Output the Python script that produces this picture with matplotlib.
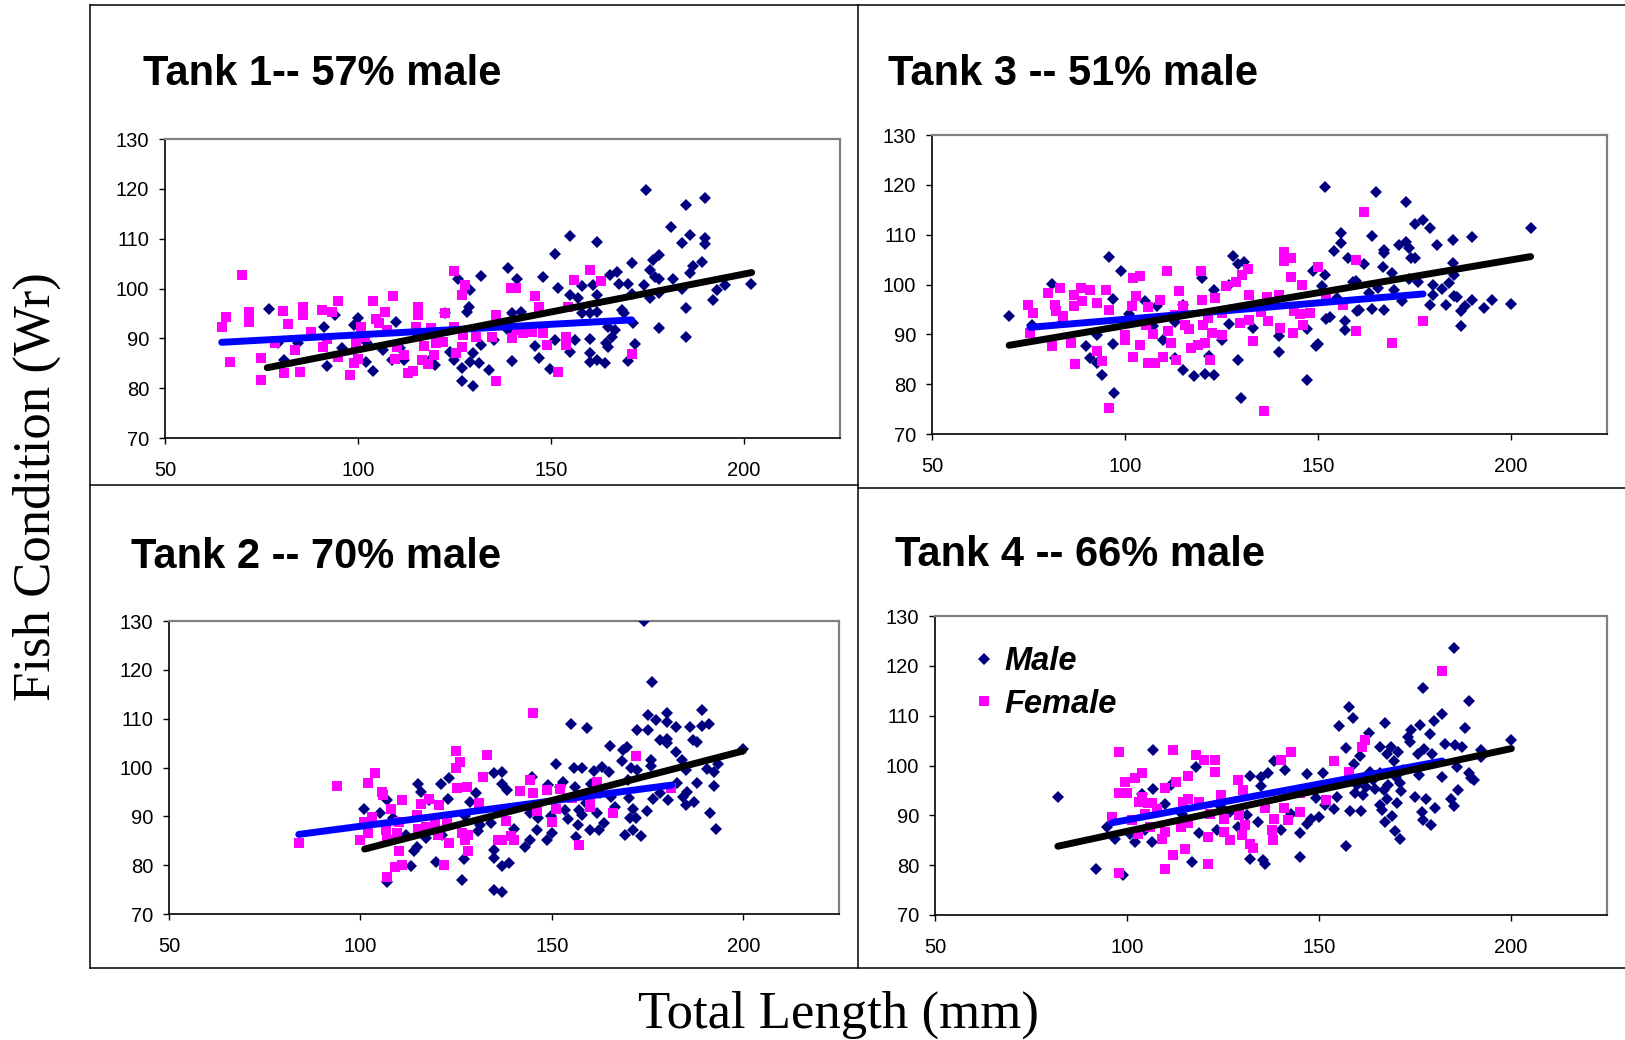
import matplotlib
matplotlib.use("Agg")
import matplotlib.pyplot as plt
from matplotlib.lines import Line2D

# ---------------- data ----------------
titles = ["Tank 1-- 57% male", "Tank 2 -- 70% male", "Tank 3 -- 51% male", "Tank 4 -- 66% male"]
x_ticks = [50, 100, 150, 200]
y_ticks = [70, 80, 90, 100, 110, 120, 130]
legend_labels = ["Male", "Female"]

# Tank 1
t1_male = [(77,95.8),(80.9,85.6),(91.1,92.2),(92,84.4),(94,94.7),(100,94.0),(100.6,92.3),(102,85.3),(103.9,83.4),
           (109.9,93.3),(106.4,87.6),(108.8,85.6),(112,85.6),(120,84.6),(122.7,95.1),(125.9,102),(129,99.7),(128.7,96.3),
           (128.2,95.3),(131.9,102.5),(127,84.1),(127,81.5),(129.8,80.4),(129,85.3),(131.3,85),(129.8,87),(131.9,88.6),
           (133.9,83.6),(135.4,89.6),(138.9,104.2),(141.2,101.9),(140,95.1),(142.2,95.3),(140,85.4),(138.9,91.6),(146,88.4),
           (147,86),(148.1,102.4),(149.8,83.9),(151,106.9),(151,89.6),(152,100.2),(155.1,110.6),(155.1,98.7),(156.3,89.6),
           (157.2,98),(155.1,87.3),(158,100.5),(158,95),(160.3,95),(160.3,89.8),(160.3,87.1),(160.3,85.3),(160.9,100.8),
           (162,109.3),(162,98.6),(162,95.3),(162,85.7),(164.1,85.1),(164.4,89.1),(164.9,88.3),(164.9,92.3),(165.3,102.7),
           (166,90.3),(166.6,91.6),(167.2,103.4),(167.8,101),(168.4,95.7),(169,95.1),(170.1,100.9),(170.1,85.5),(171,105.2),
           (171,98.9),(171.9,88.8),(171.4,93),(174.2,100.7),(174.8,119.8),(175.7,98),(175.7,103.7),(176.5,105.7),(177.1,102.4),
           (178,106.7),(178,102),(178,92),(178.2,99),(181.1,112.4),(181.7,102),(184,109.1),(184,99.8),(185,116.8),(185,96.1),
           (185,90.3),(186.2,110.7),(186.2,103.2),(187,104.5),(189.3,105.4),(190.1,118.1),(190.1,110.1),(190.1,108.9),
           (192,97.7),(193.1,99.7),(195.1,100.7),(202,100.9),(79.2,89),(84.4,89),(96,88),(98.9,92.7),(102.4,89),(111,88),
           (115.7,90.6),(118.6,85.6),(123.8,87.3),(125,85.6)]
t1_female = [(64.7,92.2),(65.9,94.2),(66.8,85.3),(69.9,102.7),(71.9,95.3),(71.9,93.3),(74.9,86),(74.9,81.6),(78.6,89),
             (80.7,95.5),(81.9,92.8),(80.9,83.1),(83.8,87.6),(84.9,83.3),(85.8,96.3),(85.8,94.7),(87.8,91.3),(90.7,95.7),
             (91,88.3),(91.9,89.8),(93.4,95.3),(94.8,97.5),(94.8,86.3),(97.9,82.6),(98.9,85.1),(99.5,89),(100,85.8),
             (100.8,92.3),(101.8,90.3),(103.9,97.5),(104.7,93.8),(105.5,93),(107,95.3),(107.6,91.6),(109,98.5),(109.7,85.8),
             (110.2,88.3),(112,86.6),(112.9,83.1),(114.3,83.5),(115.1,92.3),(115.7,96.3),(115.7,94.7),(116.6,85.6),
             (117.1,88.4),(118.1,84.9),(119,92),(119.8,86.6),(120.3,89),(122.7,95.1),(122.1,89.3),(124.9,103.6),(124.9,92.3),
             (125.4,87.1),(127,98.7),(127.3,90.6),(127.8,100.7),(127,88.3),(130.6,90.3),(134.8,90.3),(135.7,94.7),(135.7,81.5),
             (139.8,100.2),(141,100.2),(140,90),(141.2,91.6),(142.9,91),(145.2,91.3),(145.8,98.4),(146.9,96.3),(147.9,91),
             (149,88.6),(151.8,83.3),(153.9,90.3),(153.9,88.6),(154.5,96.3),(156.1,101.7),(160.1,103.7),(163,101.6),(171,86.8)]
t1_male_trend = [(76.5,84.1),(202.1,103.2)]
t1_female_trend = [(64.7,89.2),(171.0,93.7)]

# Tank 2
t2_male = [(100.9,91.4),(105,90.6),(107,93.3),(107,76.6),(108.5,89.6),(112,86.2),(113.2,79.8),(114,82.8),(114.7,83.8),
           (115,96.7),(115.8,95),(117,85.5),(117.8,93.3),(119.8,80.7),(121,96.7),(121.3,86.2),(122.9,93.5),(123.1,97.8),
           (126.6,77),(127,81.2),(127.2,90.1),(128.7,93),(130.1,94.8),(130.7,86.9),(131.3,88.2),(134.2,88.6),(134.8,98.9),
           (135,83.1),(135,81.4),(134.8,74.9),(137,99.1),(137,96.7),(137.1,74.6),(137.1,79.8),(138.3,95.4),(138.9,80.4),
           (140.1,87.5),(143,83.8),(144.2,85.1),(144.7,98.1),(144.2,90.6),(146,87.2),(146.5,89.6),(148.8,85.1),(149.1,96.5),
           (149.8,90.1),(150,86.5),(151,100.7),(152.1,96),(153,97.1),(153.5,91.3),(154.1,89.4),(155,109),(155.8,100),
           (156,96),(156.4,85.8),(156.8,88.2),(157,91.3),(157.9,99.8),(157.9,90.3),(158.8,92.8),(159.1,108.1),(159.9,87.2),
           (160.3,96.7),(160.9,99.3),(161.7,90.6),(162.3,87.2),(162.6,94.7),(163.1,100.1),(163.5,88.7),(165,99.1),
           (165.2,104.4),(165.4,94),(166.4,92),(168.2,101.4),(168.7,103.6),(169,86.2),(169.7,104.2),(169.9,97.4),
           (170.1,93.7),(170.5,89.6),(170.8,99.8),(171.1,91.6),(171.3,87.3),(172,89.6),(172.2,107.6),(172.2,99.5),(173.2,86),
           (174,130),(175.1,110.7),(175.1,107.6),(174.8,91.1),(175.9,101.6),(175.9,100.3),(176.1,117.5),(176.3,93.5),
           (177.3,109.7),(178.2,94.7),(178.2,105.6),(180,111.2),(180,109.4),(180,105.9),(180,105),(180.3,93.3),(182.3,103.2),
           (182.3,108.2),(182.6,96.9),(184,101.5),(184.2,94),(185.1,99.5),(185.3,95),(185.1,92.4),(186,108.2),(186.8,105.6),
           (187.2,93),(188,105.3),(188,96.9),(189.2,111.7),(189.2,108.5),(190.4,99.6),(191,108.9),(191.2,90.6),(192.3,99.1),
           (192.3,96.2),(193,87.5),(193.3,100.8),(200,103.8)]
t2_female = [(83.9,84.6),(93.9,96.3),(99.9,85.1),(100.9,88.9),(102,96.9),(102,86.5),(103,89.9),(103.8,98.9),(105.6,95),
             (105.9,94.3),(106.7,87.2),(107,85.1),(107,77.6),(107.9,91.4),(109.1,79.7),(109.6,86.5),(110,83),(110.8,80),
             (110.8,93.3),(110.2,88.9),(114.7,90.3),(115,87.5),(115.8,92.5),(117,87.9),(117.8,93.5),(119.6,88.7),(120.2,86.2),
             (120.5,92.3),(121.9,80),(122.5,88.9),(123.1,84.6),(124.9,103.4),(126.1,101.2),(124.9,99.8),(125.2,95.7),
             (126.6,86.5),(127.2,85.1),(127.8,96.1),(128.1,83),(128.1,86.2),(131.1,92.8),(131.9,98.1),(133.1,102.5),(136,85.1),
             (137.1,85.1),(138,89.1),(139.2,85.9),(140.1,85.2),(141.8,95.2),(144.2,97.4),(145.1,111.2),(145.1,94.7),(146,91.1),
             (148.8,95.4),(150,88.9),(151.2,91.6),(152.1,95.5),(155.3,93.7),(157,84.1),(159.9,92.8),(159.9,92),(161.9,97.1),
             (166.1,90.6),(172,102.3),(181,95.7)]
t2_male_trend = [(101.1,83.3),(200.0,103.4)]
t2_female_trend = [(83.9,86.3),(181.3,96.4)]

# Tank 3
t3_male = [(70,93.6),(76,91.9),(81,100.1),(89.9,87.7),(90.9,85.2),(92.9,89.8),(92.9,84.2),(94.1,81.9),(96,105.6),(97,97.1),
           (97,88),(97.1,78.2),(99.1,102.7),(105.2,96.7),(107.2,91.6),(109.8,88.9),(112.9,85.2),(115.1,82.9),(115.1,95.9),
           (117.9,81.6),(119.9,101.3),(120.9,82),(121.8,85.6),(123.1,81.9),(123.1,98.9),(125.1,88.9),(126.9,100),(128,105.8),
           (129.3,84.9),(129.3,104.1),(130.1,77.2),(131,104.6),(133.2,91.3),(140,89.6),(140,86.4),(147.1,80.9),(147.1,91.1),
           (148.9,102.7),(149.5,87.6),(150.1,88.1),(151.1,99.7),(151.9,119.6),(152,101.9),(152.2,93.1),(153.2,93.4),
           (154.2,106.8),(154.9,97.3),(156.1,110.4),(156.1,108.3),(157,92.7),(157,90.9),(157.9,105.4),(159.1,100.6),
           (160,100.7),(160.2,94.6),(160.8,94.9),(162,104.1),(163.2,98.3),(164.2,95.1),(164.2,109.8),(165,118.6),(165.6,99.3),
           (166.8,103.6),(167.2,94.9),(167.2,106.9),(167.2,106.4),(169.2,102.3),(169.8,98.9),(171.2,108),(171.9,96.6),
           (172.8,108.6),(173,116.5),(173.7,107.4),(173.7,101.1),(174.2,105.3),(175.2,105.3),(175.2,112.2),(176.1,100.5),
           (177.2,113),(179,111.3),(179,95.9),(179.9,97.8),(179.9,99.9),(180.9,108),(182.3,99.1),(183.3,95.9),(184.1,100.3),
           (185.1,104.4),(185.1,109),(185.3,101.9),(185.3,97.7),(186.2,97.4),(187.1,94.6),(187.1,91.7),(188.1,95.6),
           (190.1,96.8),(190.1,109.6),(193,95.3),(195.2,96.8),(200,96.1),(205.2,111.3),(108.4,95.6),(84,92.5),(101,94),
           (113,92.5),(127,92)]
t3_female = [(75,95.9),(76.2,94.3),(75.4,90.3),(80,98.3),(81,87.6),(82,95.9),(82.2,94.6),(83.2,99.3),(84,93.6),(86,88.2),
             (86.7,97.9),(87,84),(86.7,95.6),(88.7,99.3),(89,96.7),(90.9,98.9),(92.9,96.3),(92.9,86.6),(94.1,84.7),(95.1,98.9),
             (95.9,94.9),(96,75.2),(100.1,89.9),(100.1,88.9),(101.8,95.6),(102.1,101.3),(102.1,85.4),(103.9,101.7),(103,97.6),
             (103.9,87.9),(105.4,91.9),(105.9,95.4),(106,84.2),(107.2,90.1),(107.9,84.2),(109,96.9),(109.9,85.4),(111,102.7),
             (111.1,90.6),(111.9,88.2),(112.9,93.8),(113.2,84.9),(114.1,98.7),(115,95.6),(115.6,91.9),(116.5,91.1),(117.2,87.2),
             (118.9,87.8),(119.8,102.7),(120.1,96.9),(120.3,91.9),(120.9,88.2),(121.5,93.3),(122.1,84.8),(122.7,90.3),
             (123.3,97.3),(125.1,89.8),(125.1,94.3),(126.3,99.6),(128.7,100.6),(129.9,92.3),(130.4,101.9),(132,103.1),
             (132.2,97.9),(132.2,92.9),(133.2,88.6),(135.2,94.4),(136.1,74.7),(136.8,97.4),(137,92.6),(140,97.9),(140.1,91.3),
             (141.2,106.6),(141.2,104.7),(143,105.4),(143,101.6),(143.6,90.3),(143.9,94.6),(145.3,94),(145.9,99.9),(146.2,91.9),
             (147.9,94.3),(150.1,103.6),(152.2,97.3),(156.6,95.9),(160,104.9),(160,90.6),(162,114.5),(169.2,88.2),(177.2,92.7)]
t3_male_trend = [(70.0,87.8),(205.2,105.6)]
t3_female_trend = [(75.4,91.4),(177.3,98.1)]

# Tank 4
t4_male = [(82,93.7),(92,79.3),(94.8,87.7),(97,85.2),(99,78.1),(100.8,86.3),(102,84.7),(103.9,94.2),(104.7,87),(106.6,84.7),
           (106.8,103.2),(106.8,95.2),(109.9,92.2),(111.4,96),(114.4,90.3),(117,80.6),(118,99.6),(118.8,86.5),(123.4,87),
           (124.6,91.7),(126.7,90.7),(128.8,87.7),(131.2,90),(132,81.3),(132,97.9),(134.2,88.7),(134.8,97.7),(134.8,95.8),
           (135.4,81),(136,80.3),(136.6,98.4),(138.4,100.9),(140,87),(141.2,99.1),(142.6,90.3),(145,86.5),(145,81.6),
           (146.8,98.3),(146.8,88.3),(148,89.3),(149.2,93.4),(150,89.7),(151,98.4),(151.6,92),(154,91.2),(154.6,93.6),
           (155.2,108),(157,103.5),(157,83.9),(157.9,111.8),(158.2,90.9),(158.8,109.6),(159.1,100.3),(159.4,94.4),(160,96),
           (160.6,101.9),(160.9,90.9),(161.5,94),(162.3,95.6),(162.9,106.6),(163.2,98.7),(164.7,95.2),(165.9,103.7),(165.9,92),
           (166.5,91),(166.8,95),(167.1,108.6),(167.1,88.7),(167.7,102.4),(167.7,93.2),(168.7,103.7),(168.9,89.8),(169.5,100.9),
           (169.9,86.9),(170.1,97.7),(170.4,92.4),(170.7,102.8),(171.1,85.3),(171.1,96.5),(171.3,94.9),(173.1,105.8),
           (173.7,104.8),(173.9,107.1),(174.9,93.7),(175.9,102.4),(176.1,98),(176.4,108.1),(176.7,90.7),(177.1,89),
           (177.1,115.5),(177.3,103.4),(177.9,93.2),(178.8,106.4),(179.1,88),(179.5,102.4),(180.1,91.4),(180,109),
           (182.1,110.4),(182.1,97.7),(182.7,104.3),(184.3,93.2),(185.1,91.8),(185.1,123.5),(185.5,104.1),(186,99.7),
           (186.3,95),(187.2,103.7),(188.1,107.6),(189.1,113),(189.1,98.5),(189.6,97.4),(190.3,97),(192.3,103.1),
           (192.3,101.7),(200.1,105.1),(164,97),(168,96),(172,99),(166,98.5)]
t4_female = [(96,89.7),(97.9,102.7),(97.9,94.5),(97.9,78.4),(99.6,96.7),(100,94.4),(101.2,89),(102,97.4),(102.8,86.3),
             (103.2,92.7),(103.9,98.4),(103.9,93.7),(104.7,90.3),(105.4,92.4),(106,87.7),(106.6,92.5),(107.8,91.2),(109,85.3),
             (110,86.7),(110,95.4),(110,79.3),(112,103.1),(112,82),(112.8,96.7),(114,87.7),(114.7,92.7),(115,83.3),(116,97.8),
             (116,93.2),(116,88.5),(118,102.1),(118.8,92.7),(120,101.2),(121,85.7),(121,80.2),(121.6,90.3),(122.8,101.1),
             (122.8,98.7),(124.6,94),(125.2,89.3),(125.2,86.7),(126.7,85.1),(128.8,97),(129.1,90),(130,86),(130.3,95),(130.8,88),
             (132,84.3),(132.9,83.5),(136,91.4),(137.8,87),(138,85),(138.4,89.3),(140,101.2),(140.8,91.4),(142,89),(142.8,102.7),
             (145,90.7),(145,94.4),(151.9,93),(154,100.9),(157.9,98.7),(161.2,103.7),(162,105.1),(182.1,119)]
t4_male_trend = [(82.0,83.8),(200.1,103.4)]
t4_female_trend = [(96.0,88.5),(182.1,100.9)]

panels = [
    (titles[0], t1_male, t1_female, t1_male_trend, t1_female_trend),
    (titles[1], t2_male, t2_female, t2_male_trend, t2_female_trend),
    (titles[2], t3_male, t3_female, t3_male_trend, t3_female_trend),
    (titles[3], t4_male, t4_female, t4_male_trend, t4_female_trend),
]

# ---------------- layout (pixels of a 1625x1040 canvas) ----------------
W, H = 1625, 1040
# axes boxes: left, top, right, bottom
boxes = [(165, 139, 840, 438), (169, 621, 839, 914), (932, 135, 1607, 434), (935, 616, 1607, 915)]
title_pos = [(143, 74), (131, 557), (888, 74), (895, 555)]

MALE_C = "#000080"
FEMALE_C = "#FF00FF"
FONT = "Liberation Sans"
SERIF = "Liberation Serif"

fig = plt.figure(figsize=(W / 100, H / 100), dpi=100)
fig.patch.set_facecolor("white")

def fx(px):
    return px / W

def fy(py):
    return 1 - py / H

# outer frame lines
frame_kw = dict(color="black", lw=1.1, transform=fig.transFigure)
fig.add_artist(Line2D([fx(90), fx(W)], [fy(5), fy(5)], **frame_kw))
fig.add_artist(Line2D([fx(90), fx(90)], [fy(5), fy(968)], **frame_kw))
fig.add_artist(Line2D([fx(858), fx(858)], [fy(5), fy(968)], **frame_kw))
fig.add_artist(Line2D([fx(90), fx(858)], [fy(485), fy(485)], **frame_kw))
fig.add_artist(Line2D([fx(858), fx(W)], [fy(488), fy(488)], **frame_kw))
fig.add_artist(Line2D([fx(90), fx(W)], [fy(968), fy(968)], **frame_kw))

axes = []
for i, (title, male, female, mtr, ftr) in enumerate(panels):
    l, t, r, b = boxes[i]
    ax = fig.add_axes([fx(l), fy(b), (r - l) / W, (b - t) / H])
    mx = [p[0] for p in male]
    my = [p[1] for p in male]
    fxv = [p[0] for p in female]
    fyv = [p[1] for p in female]
    ax.plot(mx, my, linestyle="none", marker="D", ms=5.9, color=MALE_C, mew=0, label=legend_labels[0], zorder=3)
    ax.plot(fxv, fyv, linestyle="none", marker="s", ms=7.4, color=FEMALE_C, mew=0, label=legend_labels[1], zorder=4)
    ax.plot([p[0] for p in ftr], [p[1] for p in ftr], color="#0000FF", lw=5.0, solid_capstyle="round", zorder=5)
    ax.plot([p[0] for p in mtr], [p[1] for p in mtr], color="black", lw=5.0, solid_capstyle="round", zorder=6)
    ax.set_xlim(50, 225)
    ax.set_ylim(70, 130)
    ax.set_xticks(x_ticks)
    ax.set_yticks(y_ticks)
    ax.set_xticklabels([str(v) for v in x_ticks], fontsize=14.5, family=FONT)
    ax.set_yticklabels([str(v) for v in y_ticks], fontsize=14.5, family=FONT)
    ax.tick_params(axis="both", direction="out", length=4.5, width=1.0, color="black")
    ax.tick_params(axis="x", pad=12)
    ax.tick_params(axis="y", pad=7)
    for side in ("left", "bottom"):
        ax.spines[side].set_color("black")
        ax.spines[side].set_linewidth(1.2)
    for side in ("top", "right"):
        ax.spines[side].set_color("#808080")
        ax.spines[side].set_linewidth(1.6)
    tx, ty = title_pos[i]
    fig.text(fx(tx), fy(ty), title, ha="left", va="center", fontsize=30, fontweight="bold", family=FONT)
    axes.append(ax)

# legend in Tank 4 panel
leg = axes[3].legend(loc="upper left", bbox_to_anchor=(0.02, 0.975), frameon=False,
                     prop={"family": FONT, "weight": "bold", "style": "italic", "size": 23.5},
                     handlelength=0.8, handletextpad=0.2, labelspacing=0.35, borderpad=0.2,
                     markerscale=1.0)

fig.text(fx(37), fy(487), "Fish Condition (Wr)", rotation=90, ha="center", va="center", fontsize=38, family=SERIF)
fig.text(fx(838), fy(1015), "Total Length (mm)", ha="center", va="center", fontsize=38, family=SERIF)

fig.savefig("out.png", dpi=100, facecolor="white")
